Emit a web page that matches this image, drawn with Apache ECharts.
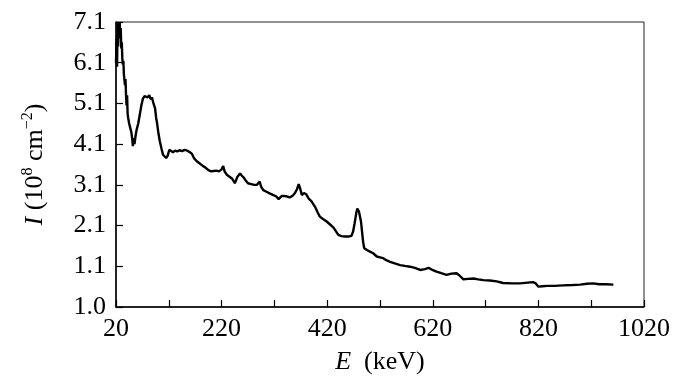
<!DOCTYPE html>
<html>
<head>
<meta charset="utf-8">
<script src="https://cdn.jsdelivr.net/npm/echarts@6/dist/echarts.min.js"></script>
<style>
  html, body { margin: 0; padding: 0; background: #fff; }
  #main { width: 679px; height: 376px; }
</style>
</head>
<body>
<div id="main"></div>
<script>
// spectrum: E (keV) and I (10^8 cm^-2)
var energy = [20,21,22,23,24,25,26,27,28,29,30,31,32,33,34,35,37,38,39,40,41,42,43,45,47,49,51,52,53,55,57,59,62,65,68,71,74,77,80,83,86,88,91,94,96,98,100,103,106,109,112,115,118,121,124,128,132,136,140,145,150,155,160,164,168,173,178,185,190,195,200,205,210,215,220,223,226,230,235,240,245,250,255,258,262,266,270,276,282,287,292,295,299,305,311,318,324,328,331,334,337,343,349,355,359,363,366,369,372,376,380,385,390,397,402,406,412,419,426,432,437,441,447,454,460,466,469,472,475,477,480,482,484,486,488,490,495,501,507,514,520,526,532,539,548,558,567,577,586,596,605,612,615,618,627,636,646,655,665,670,678,687,697,706,716,728,741,753,770,785,800,810,815,820,828,836,850,867,885,899,912,924,935,948,962];
var intensity = [6.1,6.7,6.0,7.1,6.5,7.1,6.8,7.1,6.7,6.95,6.45,6.6,6.2,6.05,6.15,5.8,5.55,5.7,5.3,5.05,5.3,4.85,4.75,4.6,4.5,4.4,4.2,4.05,4.25,4.1,4.3,4.45,4.6,4.82,5.05,5.22,5.28,5.32,5.25,5.3,5.2,5.25,5.1,4.98,4.75,4.6,4.4,4.17,4.0,3.84,3.8,3.76,3.82,3.96,3.98,3.9,3.94,3.92,3.95,3.93,3.96,3.94,3.9,3.86,3.75,3.68,3.63,3.56,3.52,3.46,3.43,3.44,3.45,3.43,3.48,3.56,3.42,3.35,3.3,3.25,3.14,3.3,3.38,3.33,3.28,3.2,3.14,3.12,3.1,3.1,3.18,3.05,2.97,2.93,2.89,2.85,2.81,2.75,2.73,2.83,2.85,2.82,2.79,2.84,2.9,3.0,3.12,3.0,2.85,2.9,2.87,2.76,2.7,2.56,2.42,2.32,2.26,2.2,2.12,2.05,1.95,1.87,1.84,1.83,1.83,1.85,1.95,2.16,2.4,2.52,2.45,2.44,2.2,1.95,1.7,1.55,1.5,1.46,1.42,1.34,1.32,1.3,1.25,1.21,1.17,1.13,1.11,1.09,1.06,1.01,1.03,1.06,1.08,1.02,0.97,0.93,0.89,0.92,0.93,0.88,0.78,0.79,0.8,0.78,0.76,0.75,0.73,0.69,0.68,0.68,0.7,0.71,0.68,0.6,0.61,0.62,0.62,0.63,0.64,0.65,0.67,0.68,0.66,0.66,0.65];

var xTicks = [20,120,220,320,420,520,620,720,820,920,1020];
var xLabels = [20,220,420,620,820,1020];
var yTicks = [0.1,1.1,2.1,3.1,4.1,5.1,6.1,7.1];
var yLabels = ['1.0','1.1','2.1','3.1','4.1','5.1','6.1','7.1'];

var points = energy.map(function (e, i) { return [e, intensity[i]]; });
var font = '"Liberation Serif", "DejaVu Serif", serif';

var chart = echarts.init(document.getElementById('main'), null, {renderer: 'canvas'});
chart.setOption({
    animation: false,
    backgroundColor: '#fff',
    grid: {
        left: 116, right: 35, top: 22, bottom: 69,
        outerBoundsMode: 'none',
        show: true, borderColor: '#222', borderWidth: 1
    },
    xAxis: {
        type: 'value',
        min: 20, max: 1020,
        splitLine: {show: false},
        axisLine: {lineStyle: {color: '#000', width: 1.5}},
        axisTick: {inside: true, length: 7, customValues: xTicks, lineStyle: {color: '#000', width: 1.2}},
        axisLabel: {
            customValues: xLabels, margin: 9, color: '#000', fontFamily: font, fontSize: 26,
            formatter: function (v) { return String(v); }
        },
        name: '{i|E}  (keV)',
        nameLocation: 'middle',
        nameGap: 42,
        nameTextStyle: {
            color: '#000', fontFamily: font, fontSize: 26,
            rich: {i: {fontStyle: 'italic', fontFamily: font, fontSize: 26, color: '#000'}}
        }
    },
    yAxis: {
        type: 'value',
        min: 0.1, max: 7.1,
        splitLine: {show: false},
        axisLine: {lineStyle: {color: '#000', width: 1.5}},
        axisTick: {inside: true, length: 7, customValues: yTicks, lineStyle: {color: '#000', width: 1.2}},
        axisLabel: {
            customValues: yTicks, margin: 10, color: '#000', fontFamily: font, fontSize: 26,
            formatter: function (v) {
                var k = yTicks.findIndex(function (t) { return Math.abs(t - v) < 1e-6; });
                return k >= 0 ? yLabels[k] : '';
            }
        },
        name: '{i|I} (10{s|8} cm{s|\u22122})',
        nameLocation: 'middle',
        nameRotate: 90,
        nameGap: 66,
        nameTextStyle: {
            color: '#000', fontFamily: font, fontSize: 26, lineHeight: 30,
            rich: {
                i: {fontStyle: 'italic', fontFamily: font, fontSize: 26, color: '#000'},
                s: {fontFamily: font, fontSize: 16, color: '#000', verticalAlign: 'top', lineHeight: 16}
            }
        }
    },
    series: [{
        type: 'line',
        data: points,
        showSymbol: false,
        clip: true,
        lineStyle: {color: '#000', width: 2.4},
        z: 3
    }]
});
</script>
</body>
</html>
